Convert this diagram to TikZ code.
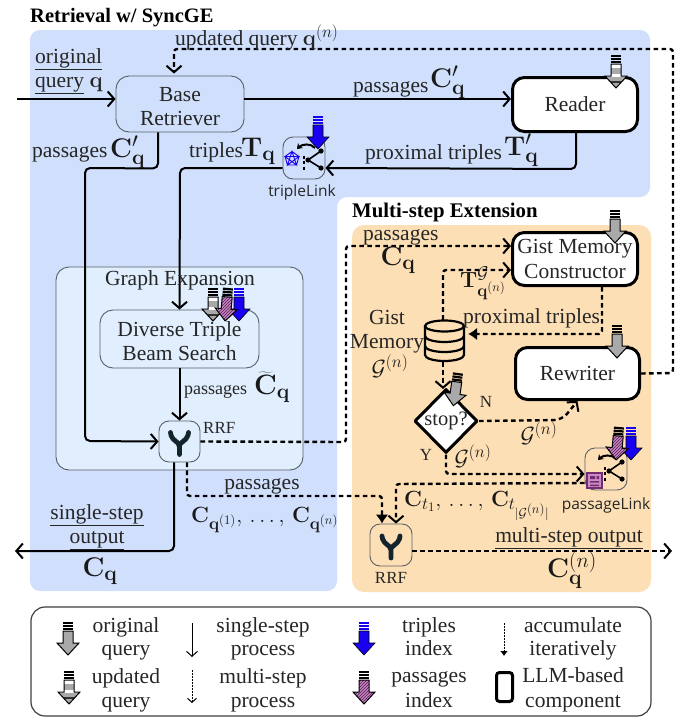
\RequirePackage{fix-cm}
\documentclass[tikz,border=0pt]{standalone}
\usepackage[no-math]{fontspec}
\setmainfont{Liberation Serif}
\newfontfamily\iconsans{Open Sans}
\usetikzlibrary{arrows.meta,shapes.geometric,patterns,calc}
\DeclareMathSizes{22}{22}{17}{13}
\DeclareMathSizes{27}{27}{21}{15}
\DeclareMathSizes{28}{28}{21}{15}
\definecolor{bluebg}{HTML}{CFDFFC}
\definecolor{orangebg}{HTML}{FDDFB5}
\definecolor{gebg}{HTML}{E0EEFE}
\definecolor{edgegray}{HTML}{5A5F66}
\definecolor{idxblue}{HTML}{1A00F0}
\definecolor{idxpink}{HTML}{A63FA0}
\definecolor{qgray}{HTML}{A9A9A9}
\definecolor{mergeink}{HTML}{14242C}
\newcommand{\tsize}{\fontsize{21.5}{24.5}\selectfont}
\newcommand{\ssize}{\fontsize{17}{19}\selectfont}
\newcommand{\msize}{\fontsize{22}{25}\selectfont}
\newcommand{\lsize}{\fontsize{27}{30}\selectfont}
\newcommand{\stripes}[1]{%
  \foreach \yy in {0,3,6} \fill[#1] (-5,\yy) rectangle (5,\yy+2.2);}
\def\arrpath{(-5,9)--(5,9)--(5,21)--(11,21)--(0,33)--(-11,21)--(-5,21)--cycle}
% arrow glyph: origin at top centre, 33 units long
\newcommand{\origarr}[3]{\begin{scope}[shift={(#1,#2)},rotate=#3]
  \stripes{black}
  \draw[black,line width=1pt,fill=qgray,line join=miter] \arrpath;
  \end{scope}}
\newcommand{\solidarr}[4]{\begin{scope}[shift={(#1,#2)},rotate=#3]
  \stripes{#4}
  \fill[#4] \arrpath;
  \draw[black,line width=.6pt] \arrpath;
  \end{scope}}
\newcommand{\updarr}[3]{\begin{scope}[shift={(#1,#2)},rotate=#3]
  \stripes{black}
  \begin{scope}
    \clip \arrpath;
    \fill[white] (-12,9) rectangle (12,33);
    \fill[qgray] (-12,13) rectangle (12,19);
    \fill[qgray] (-12,22) rectangle (12,33);
    \fill[black!80] (-12,25.5) rectangle (12,28);
  \end{scope}
  \draw[black,line width=1pt] \arrpath;
  \end{scope}}
\newcommand{\pinkarr}[3]{\begin{scope}[shift={(#1,#2)},rotate=#3]
  \stripes{black}
  \fill[idxpink!65!white] \arrpath;
  \fill[pattern=north east lines,pattern color=idxpink!50!black] \arrpath;
  \draw[black,line width=1pt] \arrpath;
  \end{scope}}
\newcommand{\mergeicon}[2]{\begin{scope}[shift={(#1,#2)}]
  \draw[mergeink,line width=4.8pt,line cap=round,line join=round,rounded corners=2pt]
    (-9,-9)--(-8,-4)--(0,3)--(0,13);
  \draw[mergeink,line width=4.8pt,line cap=round,line join=round,rounded corners=2pt]
    (9,-9)--(8,-4)--(0,3);
  \end{scope}}
\newcommand{\linkicon}[2]{\begin{scope}[shift={(#1,#2)}]
  % origin at the middle dot of the fork
  \draw[black,line width=1.6pt] (13,-9)--(0,0)--(13,8);
  \foreach \px/\py in {13/-9,0/0,13/8} \fill[black] (\px,\py) circle (2.6);
  \draw[black,line width=1.6pt,dash pattern=on 3pt off 2.4pt] (-4,-4)--(-4,11);
  \draw[black,line width=2pt,-{Stealth[length=5pt,width=7pt]}] (7,-12) .. controls (3,-17) and (-6,-16) .. (-11,-11);
  \end{scope}}
\tikzset{
  x=1pt,y=-1pt,
  >={Straight Barb[length=6.5pt,width=15pt,line width=2pt]},
  body/.style={font=\tsize,align=center,inner sep=0pt,text=black!85,text height=14pt,text depth=4pt},
  mth/.style={font=\msize,align=center,inner sep=0pt,text=black!90},
  mthl/.style={font=\lsize,align=center,inner sep=0pt,text=black!90},
  small/.style={font=\ssize,align=center,inner sep=0pt,text=black!85},
  plainbox/.style={draw=edgegray,line width=.9pt,rounded corners=13pt,inner sep=0pt,align=center,font=\tsize,text=black!85},
  iconbox/.style={draw=edgegray,line width=.9pt,rounded corners=10pt,inner sep=0pt},
  llmbox/.style={draw=black,line width=3pt,rounded corners=12pt,fill=white,inner sep=0pt,align=center,font=\tsize,text=black!85},
  flow/.style={draw=black,line width=2pt,rounded corners=5pt,->},
  iter/.style={draw=black,line width=2.4pt,rounded corners=3pt,dash pattern=on 4.6pt off 3.4pt,->},
  iterfill/.style={draw=black,line width=2.4pt,rounded corners=3pt,dash pattern=on 4.6pt off 3.4pt,-{Latex[length=9pt,width=13pt]}},
}
\begin{document}
\begin{tikzpicture}
\useasboundingbox (0,0) rectangle (688,726);
\fill[white] (0,0) rectangle (688,726);
% panels
\fill[bluebg,rounded corners=10pt] (30,30)--(650,30)--(650,197)--(337,197)--(337,591)--(30,591)--cycle;
\fill[orangebg,rounded corners=12pt] (352,225) rectangle (651,592);
\node[anchor=west,inner sep=0pt,font=\fontsize{20.5}{24}\selectfont\bfseries] (ttlA) at (30,18) {Retrieval w/ SyncGE};
\node[anchor=west,inner sep=0pt,font=\fontsize{20.8}{24}\selectfont\bfseries] (ttlB) at (352,212) {Multi-step Extension};
% graph expansion
\node[draw=edgegray,line width=.9pt,rounded corners=13pt,fill=gebg,minimum width=247pt,minimum height=203pt,inner sep=0pt] (ge) at (179.5,368.5) {};
% boxes
\node[plainbox,minimum width=128pt,minimum height=56pt,fill=bluebg] (base) at (180,104) {\rule{0pt}{19pt}Base\\Retriever};
\node[llmbox,minimum width=125pt,minimum height=54pt] (reader) at (575,104.5) {Reader};
\node[llmbox,minimum width=125pt,minimum height=53pt] (gist) at (575,259) {Gist Memory\\Constructor};
\node[llmbox,minimum width=124pt,minimum height=52pt] (rewriter) at (577.5,373.5) {Rewriter};
\node[plainbox,minimum width=159pt,minimum height=58pt,fill=gebg] (dtbs) at (179.5,339) {\rule{0pt}{19pt}Diverse Triple\\Beam Search};
\node[iconbox,minimum width=41pt,minimum height=41pt,fill=gebg] (rrfA) at (179.5,441.5) {};
\node[iconbox,minimum width=42pt,minimum height=42pt,fill=orangebg] (rrfB) at (391,545) {};
\node[iconbox,minimum width=42pt,minimum height=42pt,fill=bluebg] (tlink) at (304,158) {};
\node[iconbox,minimum width=42pt,minimum height=42pt,fill=orangebg] (plink) at (606,469) {};
\node[draw=black,line width=3pt,line join=round,fill=white,diamond,aspect=1,minimum width=63pt,minimum height=64pt,inner sep=0pt,font=\fontsize{20.5}{22}\selectfont,text=black!85] (stopq) at (446,421) {stop?};
\node[minimum width=39pt,minimum height=42pt,inner sep=0pt] (db) at (444.5,341) {};
% database glyph
\draw[black,line width=2.2pt,fill=orangebg] (425,326) -- (425,355) arc[start angle=180,end angle=360,x radius=19.5,y radius=-6] -- (464,326);
\draw[black,line width=2.2pt] (444.5,326) ellipse[x radius=19.5,y radius=5.5];
\draw[black,line width=2.2pt] (425,336) arc[start angle=180,end angle=360,x radius=19.5,y radius=-6];
\draw[black,line width=2.2pt] (425,346) arc[start angle=180,end angle=360,x radius=19.5,y radius=-6];
% solid connectors
\coordinate (inStart) at (17,99);
\coordinate (outEnd) at (15,551);
\draw[flow] (inStart) -- ([yshift=5pt]base.west);
\draw[flow] ([yshift=5pt]base.east) -- ([yshift=5.5pt]reader.west);
\draw[flow] ([xshift=-22pt]base.south) -- ++(0,36) -- (85,168) -- (85,441) -- (rrfA.west);
\draw[flow] ([xshift=1pt]reader.south) -- ++(0,36) -- ([yshift=-10pt]tlink.east);
\draw[flow] ([yshift=-10pt]tlink.west) -- (180,168) -- (dtbs.north);
\draw[flow] (dtbs.south) -- (rrfA.north);
\draw[flow] ([xshift=-5.5pt]rrfA.south) -- (174,551) -- (outEnd);
% iterative connectors
\coordinate (outB) at (672,551);
\draw[iter] (rrfA.east) -- (346,442) -- (346,246) -- ([yshift=13pt]gist.west);
\draw[iter] ([xshift=-1.5pt]db.north) -- (443,270) -- ([yshift=-11pt]gist.west);
\draw[iterfill] ([xshift=27pt]gist.south) -- (602,334) -- ([xshift=4pt,yshift=7pt]db.east);
\draw[iter] ([xshift=-1.5pt]db.south) -- (443,389);
\draw[iter,rounded corners=8pt] (stopq.east) -- (562,420) -- ([xshift=0pt]rewriter.south);
\draw[iter] (stopq.south) -- (446,474) -- ([yshift=-5pt]plink.west);
\draw[iter] ([yshift=-14pt]plink.west) -- (396,484) -- ([xshift=5pt]rrfB.north);
\draw[iterfill] ([xshift=7.5pt]rrfA.south) -- (187,496) -- (382,496) -- ([xshift=-9pt]rrfB.north);
\draw[iter] (rewriter.east) -- (673,373) -- (673,49) -- (174,49) -- ([xshift=-6pt,yshift=2pt]base.north);
\draw[iter] ([yshift=-6pt]rrfB.east) -- (outB);
% icons
\mergeicon{179.5}{441.5}
\mergeicon{391}{545}
\linkicon{308}{160}
\draw[idxblue,line width=.9pt] (292,151.5)--(299,156.5)--(296.5,165)--(287.5,165)--(285,156.5)--cycle (292,151.5)--(296.5,165)--(285,156.5)--(299,156.5)--(287.5,165)--cycle;
\linkicon{609}{471}
\fill[idxpink!60!white] (587,473) rectangle (602,488);
\draw[idxpink!70!black,line width=1.3pt] (587,473) rectangle (602,488);
\fill[idxpink!70!black] (590,476) rectangle (595,479) (590,481) rectangle (599,482.5) (590,484.5) rectangle (599,486) (596.5,476) rectangle (599,479);
% index arrows
\solidarr{318}{116}{0}{idxblue}
\origarr{615}{210}{0}
\updarr{616}{55}{0}
\origarr{617}{325}{0}
\origarr{458}{373}{-8}
\solidarr{631}{427}{0}{idxblue}
\pinkarr{619}{427}{-5}
\updarr{213}{288}{0}
\solidarr{239}{288}{0}{idxblue}
\pinkarr{228}{288}{-5}
% labels
\node[body,anchor=west] (lOrig) at (35,58) {\underline{original}};
\node[body,anchor=west] (lQuery) at (35,82) {\underline{query} {\msize$\mathbf{q}$}};
\node[body,anchor=west] (lUpd) at (175,40) {updated query {\msize$\mathbf{q}^{(n)}$}};
\node[body,anchor=west] (lPassA) at (353,87) {passages};
\node[mthl,anchor=west] (lCa) at (430,82) {$\mathbf{C}'_{\mathbf{q}}$};
\node[body,anchor=west] (lPassB) at (32,152) {passages};
\node[mthl,anchor=west] (lCb) at (110,152) {$\mathbf{C}'_{\mathbf{q}}$};
\node[body,anchor=west] (lTrip) at (189,152) {triples};
\node[mthl,anchor=west] (lTb) at (241,151) {$\mathbf{T}_{\mathbf{q}}$};
\node[body,anchor=west] (lProx) at (365,154) {proximal triples};
\node[mthl,anchor=west] (lTc) at (504,150) {$\mathbf{T}'_{\mathbf{q}}$};
\node[small,font=\iconsans\fontsize{15.5}{17}\selectfont] (lTL) at (302,192) {tripleLink};
\node[body] (lGE) at (180,280) {Graph Expansion};
\node[body,anchor=west,font=\fontsize{18}{21}\selectfont] (lPassC) at (184,389) {passages};
\node[mthl,anchor=west,font=\fontsize{28}{30}\selectfont] (lCt) at (254,387) {$\widetilde{\mathbf{C}}_{\mathbf{q}}$};
\node[small,anchor=west] (lRA) at (203,428) {RRF};
\node[body] (lSS) at (97,514) {\underline{single-step}};
\node[body] (lSO) at (97,538) {\underline{output}};
\node[mthl] (lCq) at (100,571) {$\mathbf{C}_{\mathbf{q}}$};
\node[body] (lPassD) at (262,484) {passages};
\node[mth,anchor=west] (lCseq) at (191,520) {$\mathbf{C}_{\mathbf{q}^{(1)}},\,\ldots,\,\mathbf{C}_{\mathbf{q}^{(n)}}$};
\node[body,anchor=west] (lPassE) at (363,235) {passages};
\node[mthl] (lCr) at (398,260) {$\mathbf{C}_{\mathbf{q}}$};
\node[mth] (lTG) at (483,283) {$\mathbf{T}^{\mathcal{G}}_{\mathbf{q}^{(n)}}$};
\node[body,anchor=west] (lProxB) at (463,318) {proximal triples};
\node[body] (lGM) at (387,319) {Gist};
\node[body] (lGMb) at (387,343) {Memory};
\node[mth] (lGn) at (390,366) {$\mathcal{G}^{(n)}$};
\node[small] (lN) at (486,402) {N};
\node[small] (lY) at (426,455) {Y};
\node[mth] (lGa) at (473,456) {$\mathcal{G}^{(n)}$};
\node[mth] (lGb) at (539,433) {$\mathcal{G}^{(n)}$};
\node[mth,anchor=west] (lCtt) at (404,506) {$\mathbf{C}_{t_1},\,\ldots,\,\mathbf{C}_{t_{|\mathcal{G}^{(n)}|}}$};
\node[small,font=\iconsans\fontsize{15.5}{17}\selectfont] (lPL) at (606,505) {passageLink};
\node[small] (lRB) at (391,578) {RRF};
\node[body] (lMS) at (569,537) {\underline{multi-step output}};
\node[mthl] (lCn) at (572,570) {$\mathbf{C}^{(n)}_{\mathbf{q}}$};
% legend
\node[draw=black!75,line width=1.2pt,rounded corners=14pt,fill=white,minimum width=620pt,minimum height=109pt,inner sep=0pt] (legend) at (341,661.5) {};
\origarr{68}{622}{0}
\node[body] (k1a) at (126,627) {original};
\node[body] (k1b) at (126,650) {query};
\updarr{69}{671}{0}
\node[body] (k2a) at (126,678) {updated};
\node[body] (k2b) at (126,702) {query};
\coordinate (s1) at (192,623); \coordinate (s2) at (192,657);
\draw[black,line width=1pt,->,>={Straight Barb[length=5pt,width=11pt,line width=1pt]}] (s1) -- (s2);
\node[body] (k3a) at (263,627) {single-step};
\node[body] (k3b) at (263,650) {process};
\coordinate (d1) at (192,670); \coordinate (d2) at (192,703);
\draw[black,line width=1pt,dash pattern=on 1.5pt off 1.5pt,->,>={Straight Barb[length=4pt,width=9pt,line width=1pt]}] (d1) -- (d2);
\node[body] (k4a) at (263,678) {multi-step};
\node[body] (k4b) at (263,702) {process};
\solidarr{364}{622}{0}{idxblue}
\node[body] (k5a) at (429,627) {triples};
\node[body] (k5b) at (429,650) {index};
\pinkarr{364}{671}{0}
\node[body] (k6a) at (429,677) {passages};
\node[body] (k6b) at (429,702) {index};
\coordinate (a1) at (504,623); \coordinate (a2) at (504,656);
\draw[black,line width=1pt,dash pattern=on 1.5pt off 1.5pt,-{Latex[length=5pt,width=8pt]}] (a1) -- (a2);
\node[body] (k7a) at (573,627) {accumulate};
\node[body] (k7b) at (573,650) {iteratively};
\node[draw=black,line width=3pt,rounded corners=3pt,minimum width=16pt,minimum height=29pt,inner sep=0pt] (k8box) at (504.5,687) {};
\node[body] (k8a) at (573,677) {LLM-based};
\node[body] (k8b) at (573,702) {component};
\end{tikzpicture}
\end{document}
